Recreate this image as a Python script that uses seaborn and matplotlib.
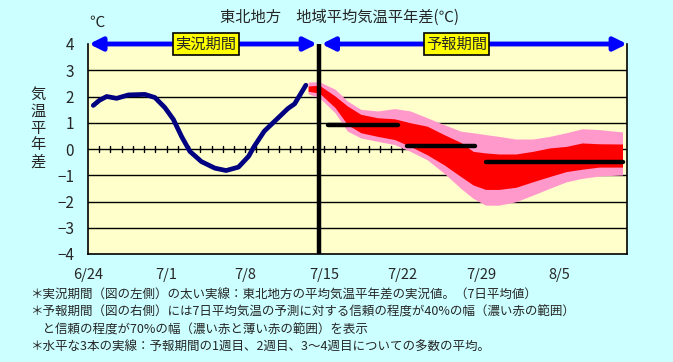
import numpy as np
import pandas as pd
import seaborn as sns
import matplotlib
matplotlib.use("Agg")
from matplotlib import pyplot as plt

# observed 7-day mean anomaly (days counted from 6/24)
obs_days = [0.47, 1.0, 1.66, 2.55, 3.6, 5.07, 5.96, 6.84, 7.6, 8.33, 9.07,
            10.1, 11.3, 12.3, 13.4, 14.3, 14.8, 15.7, 16.8, 17.8, 18.4, 19.4]
obs_anom = [1.66, 1.85, 2.0, 1.93, 2.06, 2.08, 1.96, 1.58, 1.13, 0.48, -0.09,
            -0.48, -0.73, -0.82, -0.69, -0.28, 0.1, 0.68, 1.13, 1.54, 1.72, 2.43]

# forecast ranges
fc_days = [19.6, 20.6, 22.0, 23.1, 24.3, 25.8, 27.3, 28.7, 30.2, 31.7, 33.2,
           34.3, 35.4, 36.6, 38.1, 39.6, 41.1, 42.6, 44.0, 45.5, 47.6]
p70_hi = [2.55, 2.56, 2.28, 1.83, 1.51, 1.45, 1.54, 1.45, 1.19, 0.93, 0.68,
          0.62, 0.55, 0.48, 0.38, 0.38, 0.48, 0.62, 0.77, 0.74, 0.65]
p40_hi = [2.4, 2.43, 2.02, 1.64, 1.32, 1.19, 1.15, 1.0, 0.87, 0.55, 0.25,
          -0.09, -0.15, -0.19, -0.19, -0.09, 0.04, 0.1, 0.23, 0.2, 0.19]
p40_lo = [2.2, 2.13, 1.58, 0.93, 0.62, 0.48, 0.36, 0.1, -0.22, -0.6, -1.05,
          -1.37, -1.54, -1.54, -1.46, -1.25, -1.05, -0.86, -0.77, -0.69, -0.69]
p70_lo = [2.1, 1.96, 1.38, 0.68, 0.42, 0.29, 0.17, -0.09, -0.41, -0.92, -1.5,
          -1.88, -2.14, -2.14, -2.01, -1.76, -1.5, -1.25, -1.12, -1.03, -0.99]

# weekly ensemble means
wk_start = [21.4, 28.4, 35.4]
wk_end = [27.6, 34.5, 47.6]
wk_mean = [0.9, 0.1, -0.5]

split_day = 20.6
xtick_pos = [0, 7, 14, 21, 28, 35, 42]
xtick_lab = ["6/24", "7/1", "7/8", "7/15", "7/22", "7/29", "8/5"]
ytick_pos = [4, 3, 2, 1, 0, -1, -2, -3, -4]

notes = [
    "＊実況期間（図の左側）の太い実線：東北地方の平均気温平年差の実況値。（7日平均値）",
    "＊予報期間（図の右側）には7日平均気温の予測に対する信頼の程度が40%の幅（濃い赤の範囲）",
    "　と信頼の程度が70%の幅（濃い赤と薄い赤の範囲）を表示",
    "＊水平な3本の実線：予報期間の1週目、2週目、3～4週目についての多数の平均。",
]

sns.set_style("white")
plt.rcParams['font.family'] = ['Noto Sans CJK JP', 'DejaVu Sans']

bg = "#CCFFFF"
fig = plt.figure(figsize=(6.73, 3.62), dpi=100, facecolor=bg)
ax = fig.add_axes([88/673, 1-254/362, (627-88)/673, (254-44)/362])
ax.set_facecolor("#FFFFCC")

# grid lines
for y in ytick_pos[1:-1]:
    ax.axhline(y, color="black", lw=1.0, zorder=1)
# day ticks on zero line
for d in range(1, 48):
    ax.plot([d, d], [-0.13, 0.13], color="black", lw=1.0, zorder=1)

ax.fill_between(fc_days, p70_lo, p70_hi, color="#FF99CC", lw=0, zorder=2)
ax.fill_between(fc_days, p40_lo, p40_hi, color="#FF0000", lw=0, zorder=3)

df = pd.DataFrame({"day": obs_days, "anom": obs_anom})
sns.lineplot(data=df, x="day", y="anom", ax=ax, color="#000080", lw=3.4, zorder=4)

for s, e, m in zip(wk_start, wk_end, wk_mean):
    ax.plot([s, e], [m, m], color="black", lw=3.2, solid_capstyle="round", zorder=5)

ax.axvline(split_day, color="black", lw=3.2, zorder=6)

# period arrows
arr = dict(arrowstyle="<|-|>", color="#0000FF", lw=3.5, mutation_scale=19,
           shrinkA=0, shrinkB=0)
ax.annotate("", xy=(0.1, 4), xytext=(split_day - 0.2, 4), arrowprops=arr,
            annotation_clip=False, zorder=7)
ax.annotate("", xy=(split_day + 0.2, 4), xytext=(48, 4), arrowprops=arr,
            annotation_clip=False, zorder=7)
box = dict(boxstyle="square,pad=0.15", fc="#FFFF00", ec="black", lw=1.2)
ax.text(10.5, 4, "実況期間", ha="center", va="center", fontsize=11, bbox=box, zorder=8)
ax.text(32.8, 4, "予報期間", ha="center", va="center", fontsize=11, bbox=box, zorder=8)

ax.set_xlim(0, 48)
ax.set_ylim(-4, 4)
ax.set_xticks(xtick_pos)
ax.set_xticklabels(xtick_lab, fontsize=10.5)
ax.set_yticks(ytick_pos)
ax.set_yticklabels([str(v).replace("-", "−") for v in ytick_pos], fontsize=11)
ax.tick_params(axis="x", direction="inout", length=12, width=1.0, color="black", pad=4)
ax.tick_params(axis="y", length=0, pad=10)
ax.set_xlabel("")
ax.set_ylabel("")
for side in ["left", "right", "bottom"]:
    ax.spines[side].set_color("black")
    ax.spines[side].set_linewidth(1.2)
ax.spines["top"].set_visible(False)

fig.text(340/673, 1-17/362, "東北地方　地域平均気温平年差(℃)", ha="center", va="center", fontsize=11)
fig.text(97/673, 1-22/362, "℃", ha="center", va="center", fontsize=11)
fig.text(38/673, 1-128/362, "\n".join("気温平年差"), ha="center", va="center",
         fontsize=11, linespacing=1.0)

for i, line in enumerate(notes):
    fig.text(30/673, 1-(295 + i*17.5)/362, line, ha="left", va="center", fontsize=9)

fig.savefig("out.png", dpi=100, facecolor=bg)
